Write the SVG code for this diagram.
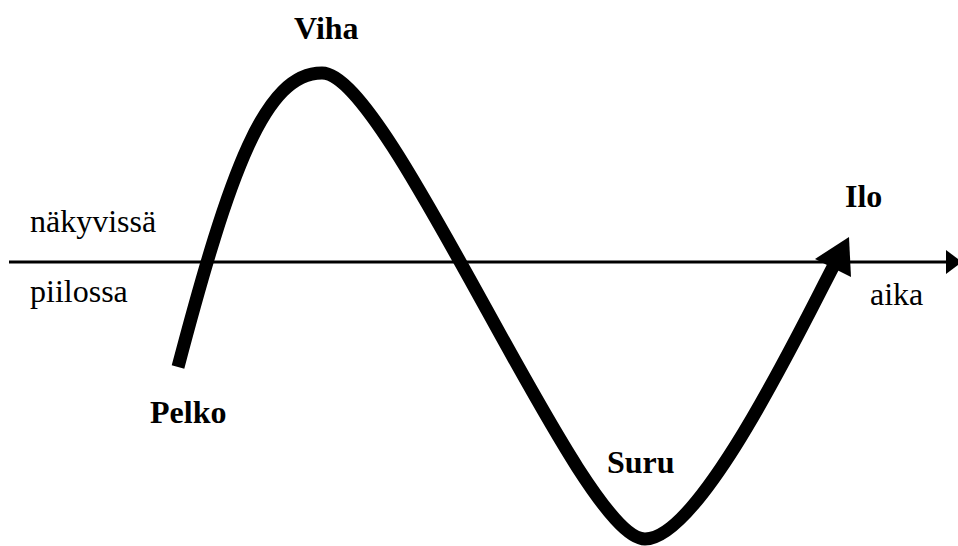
<svg xmlns="http://www.w3.org/2000/svg" width="958" height="546" viewBox="0 0 958 546">
<style>
text{font-family:"Liberation Serif","Times New Roman",serif;font-size:32px;fill:#000}
.b{font-weight:bold}
</style>
<rect width="958" height="546" fill="#fff"/>
<g id="connectors">
<g id="axis">
<line x1="9" y1="262" x2="948" y2="262" stroke="#000" stroke-width="3"/>
<polygon points="946,250 962,262 946,274" fill="#000"/>
</g>
<g id="wave">
<path d="M178,367 C230,170 265,73 322,73 C390,73 580,539 645,539 C700,539 800,330 833,267" fill="none" stroke="#000" stroke-width="13"/>
<polygon points="849,237 815,259 851,277" fill="#000"/>
</g>
</g>
<g id="viha"><text class="b" x="294" y="39">Viha</text></g>
<g id="ilo"><text class="b" x="845" y="207">Ilo</text></g>
<g id="pelko"><text class="b" x="150" y="423">Pelko</text></g>
<g id="suru"><text class="b" x="607" y="473">Suru</text></g>
<g id="nakyvissa"><text x="30" y="232">näkyvissä</text></g>
<g id="piilossa"><text x="30" y="302">piilossa</text></g>
<g id="aika"><text x="870" y="305">aika</text></g>
</svg>
